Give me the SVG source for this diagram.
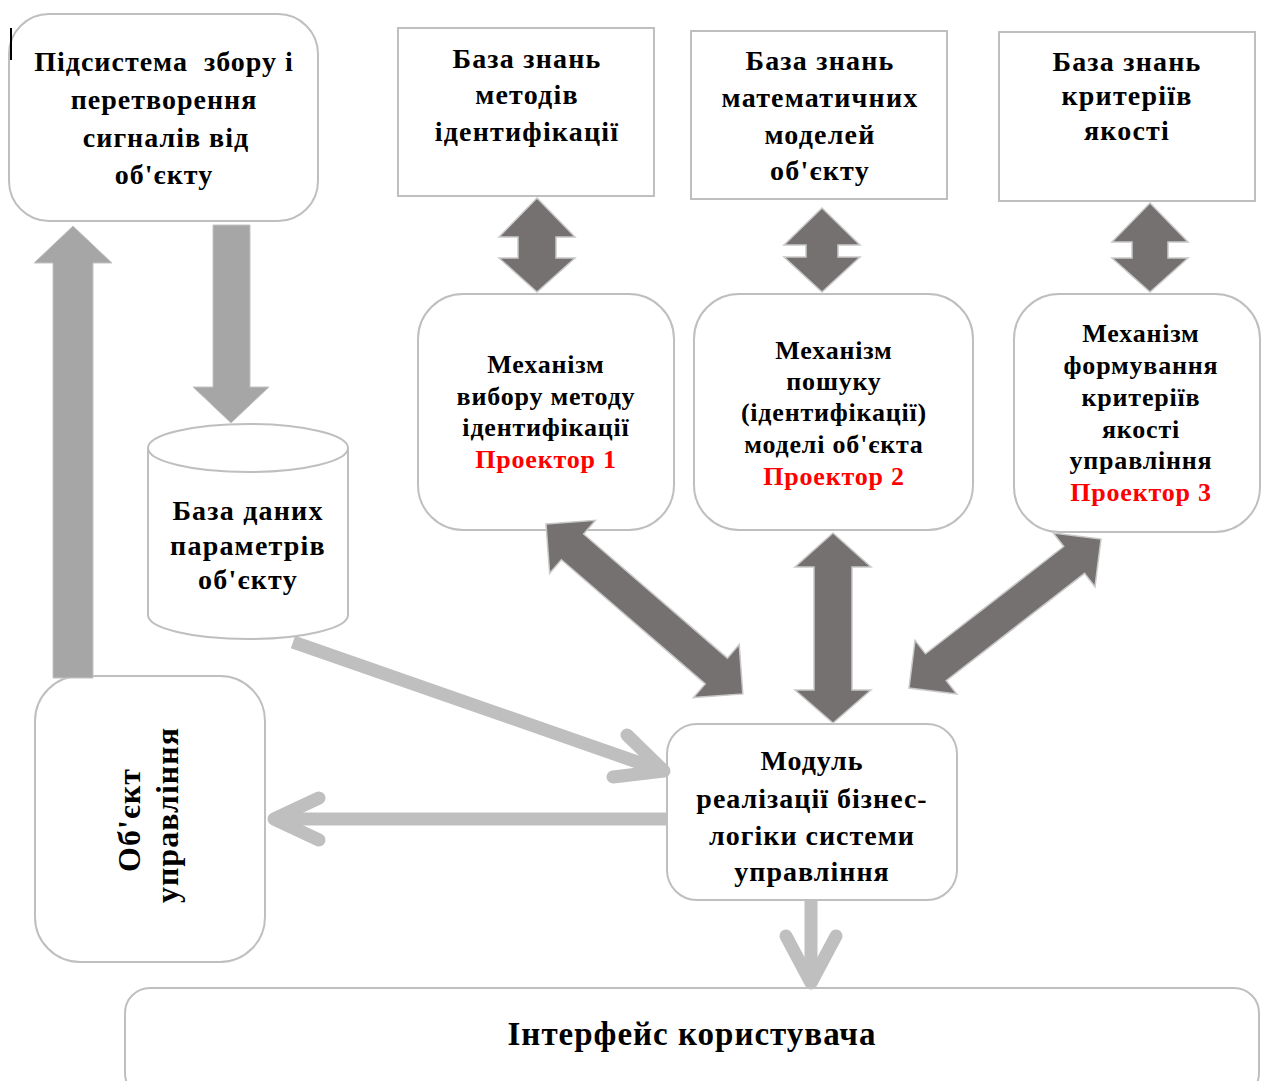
<svg xmlns="http://www.w3.org/2000/svg" width="1261" height="1081" viewBox="0 0 1261 1081">
  <style>
    .box { fill: #ffffff; stroke: #bfbfbf; stroke-width: 2; }
    .t { font-family: "Liberation Serif", "Times New Roman", serif; font-weight: bold; fill: #000000; text-anchor: middle; }
    .big { font-size: 28px; letter-spacing: 1px; }
    .mid { font-size: 28px; letter-spacing: 1.2px; }
    .sm { font-size: 26px; letter-spacing: 0.8px; }
    .huge { font-size: 33px; letter-spacing: 1px; }
    .vert { font-size: 32px; letter-spacing: 1px; }
    .red { fill: #ff0000; }
    .dark { fill: #767171; stroke: #c9c9c9; stroke-width: 1.5; stroke-linejoin: miter; }
    .light { fill: #a6a6a6; stroke: #c4c4c4; stroke-width: 1; }
    .open { fill: none; stroke: #bfbfbf; stroke-width: 13; stroke-linecap: round; stroke-linejoin: round; }
    .shaft { fill: none; stroke: #bfbfbf; stroke-width: 13; stroke-linecap: butt; }
  </style>
  <defs>
    <!-- double-headed block arrow along +x, length set per use via transform -->
    <path id="dbl260" d="M0,0 L35,-35 L35,-17 L225,-17 L225,-35 L260,0 L225,35 L225,17 L35,17 L35,35 Z"/>
    <path id="dbl243" d="M0,0 L34,-34 L34,-17 L209,-17 L209,-34 L243,0 L209,34 L209,17 L34,17 L34,34 Z"/>
  </defs>

  <!-- nodes -->
  <g id="collector">
    <rect class="box" x="9" y="14" width="309" height="207" rx="40" ry="40"/>
    <text class="t big" x="164" y="71" style="white-space:pre">Підсистема  збору і</text>
    <text class="t big" x="164" y="109">перетворення</text>
    <text class="t big" x="166" y="147">сигналів від</text>
    <text class="t big" x="164" y="184">об'єкту</text>
  </g>

  <!-- stray cursor mark at top left -->
  <rect x="10" y="28" width="2" height="32" fill="#000000"/>

  <g id="kb-methods">
    <rect class="box" x="398" y="28" width="256" height="168"/>
    <text class="t mid" x="527" y="68">База знань</text>
    <text class="t mid" x="527" y="104">методів</text>
    <text class="t mid" x="527" y="141">ідентифікації</text>
  </g>

  <g id="kb-models">
    <rect class="box" x="691" y="31" width="256" height="168"/>
    <text class="t mid" x="820" y="70">База знань</text>
    <text class="t mid" x="820" y="107">математичних</text>
    <text class="t mid" x="820" y="144">моделей</text>
    <text class="t mid" x="820" y="180">об'єкту</text>
  </g>

  <g id="kb-criteria">
    <rect class="box" x="999" y="32" width="256" height="169"/>
    <text class="t mid" x="1127" y="71">База знань</text>
    <text class="t mid" x="1127" y="105">критеріїв</text>
    <text class="t mid" x="1127" y="140">якості</text>
  </g>

  <g id="mech-method">
    <rect class="box" x="418" y="294" width="256" height="236" rx="45" ry="45"/>
    <text class="t sm" x="546" y="373">Механізм</text>
    <text class="t sm" x="546" y="405">вибору методу</text>
    <text class="t sm" x="546" y="436">ідентифікації</text>
    <text class="t sm red" x="546" y="468">Проектор 1</text>
  </g>

  <g id="mech-model">
    <rect class="box" x="694" y="294" width="279" height="236" rx="45" ry="45"/>
    <text class="t sm" x="834" y="359">Механізм</text>
    <text class="t sm" x="834" y="390">пошуку</text>
    <text class="t sm" x="834" y="421">(ідентифікації)</text>
    <text class="t sm" x="834" y="453">моделі об'єкта</text>
    <text class="t sm red" x="834" y="485">Проектор 2</text>
  </g>

  <g id="mech-criteria">
    <rect class="box" x="1014" y="294" width="246" height="238" rx="45" ry="45"/>
    <text class="t sm" x="1141" y="342">Механізм</text>
    <text class="t sm" x="1141" y="374">формування</text>
    <text class="t sm" x="1141" y="406">критеріїв</text>
    <text class="t sm" x="1141" y="438">якості</text>
    <text class="t sm" x="1141" y="469">управління</text>
    <text class="t sm red" x="1141" y="501">Проектор 3</text>
  </g>

  <g id="param-db">
    <path class="box" d="M148,448 L148,615 A100,24 0 0 0 348,615 L348,448"/>
    <ellipse class="box" cx="248" cy="448" rx="100" ry="24"/>
    <text class="t mid" x="248" y="520">База даних</text>
    <text class="t mid" x="248" y="555">параметрів</text>
    <text class="t mid" x="248" y="589">об'єкту</text>
  </g>

  <g id="plant">
    <rect class="box" x="35" y="676" width="230" height="286" rx="45" ry="45"/>
    <text class="t vert" transform="translate(140,820) rotate(-90)">Об'єкт</text>
    <text class="t vert" transform="translate(178,815) rotate(-90)">управління</text>
  </g>

  <g id="logic-module">
    <rect class="box" x="667" y="724" width="290" height="176" rx="30" ry="30"/>
    <text class="t big" x="812" y="770">Модуль</text>
    <text class="t big" x="812" y="808">реалізації бізнес-</text>
    <text class="t big" x="812" y="845">логіки системи</text>
    <text class="t big" x="812" y="881">управління</text>
  </g>

  <g id="user-ui">
    <rect class="box" x="125" y="988" width="1134" height="110" rx="25" ry="25"/>
    <text class="t huge" x="692" y="1045">Інтерфейс користувача</text>
  </g>

  <!-- connectors -->
  <g id="connectors">
    <!-- collector to database -->
    <polygon class="light" points="213,225 250,225 250,387 269,387 231,423 193,387 213,387"/>
    <!-- plant feedback up to collector -->
    <polygon class="light" points="73,226 112,263 93,263 93,678 53,678 53,263 34,263"/>

    <!-- knowledge bases to mechanisms -->
    <polygon class="dark" points="537,198 575,237 556,237 556,258 575,258 537,292 499,258 518,258 518,237 499,237"/>
    <polygon class="dark" points="822,208 860,245 838,245 838,257 860,257 822,292 784,257 806,257 806,245 784,245"/>
    <polygon class="dark" points="1150,203 1188,242 1168,242 1168,258 1188,258 1150,292 1112,258 1132,258 1132,242 1112,242"/>

    <!-- mechanisms to logic module -->
    <use href="#dbl260" class="dark" transform="translate(546,524) rotate(40.8)"/>
    <polygon class="dark" points="833,533 871,567 852,567 852,690 871,690 833,723 795,690 814,690 814,567 795,567"/>
    <use href="#dbl243" class="dark" transform="translate(909,688) rotate(-37.8)"/>

    <!-- database to logic module -->
    <line class="shaft" x1="293" y1="642" x2="660" y2="770"/>
    <path class="open" d="M627,735 L664,771 L613,777"/>
    <!-- logic module to plant -->
    <line class="shaft" x1="668" y1="819" x2="276" y2="819"/>
    <path class="open" d="M319,798 L274,819 L319,840"/>
    <!-- logic module to user interface -->
    <line class="shaft" x1="811" y1="900" x2="811" y2="982"/>
    <path class="open" d="M786,936 L811,983 L836,936"/>
  </g>
</svg>
